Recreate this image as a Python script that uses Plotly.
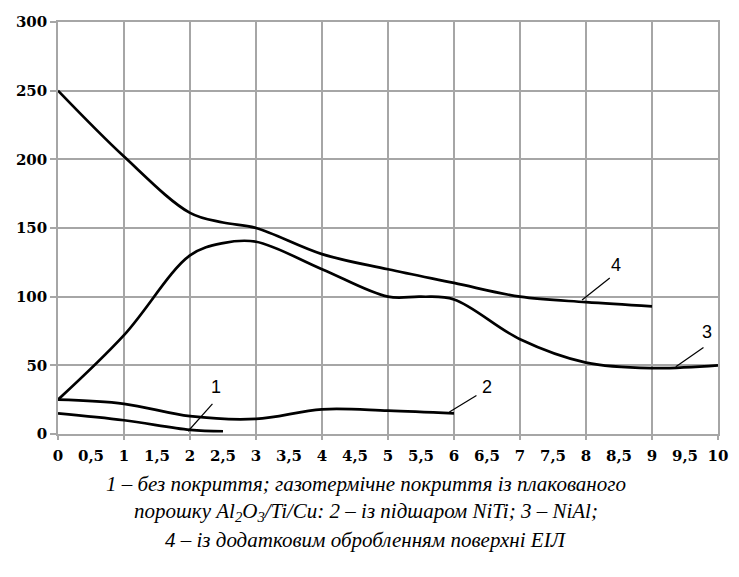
import plotly.graph_objects as go

# ---- data ----
x1 = [0, 1, 2, 2.5]
y1 = [15, 10, 3, 2]

x2 = [0, 1, 2, 3, 4, 5, 6]
y2 = [25, 22, 13, 11, 18, 17, 15]

x3 = [0, 1, 2, 2.5, 3, 4, 5, 5.5, 6, 7, 8, 9, 10]
y3 = [25, 72, 130, 139, 140, 120, 100, 100, 98, 69, 52, 48, 50]

x4 = [0, 1, 2, 2.5, 3, 4, 5, 6, 7, 8, 9]
y4 = [250, 202, 161, 154, 150, 131, 120, 110, 100, 96, 93]

curve_labels = ["1", "2", "3", "4"]
label_x = [2.39, 6.50, 9.84, 8.46]
label_y = [34, 34, 74, 123]
leader_x0 = [1.97, 5.93, 9.36, 7.94]
leader_y0 = [2, 16, 49, 97.6]
leader_x1 = [2.34, 6.34, 9.78, 8.36]
leader_y1 = [22, 28, 63, 113.6]

x_tickvals = [i * 0.5 for i in range(21)]
x_ticktext = [("%g" % v).replace(".", ",") for v in x_tickvals]
x_gridvals = list(range(11))
y_tickvals = [0, 50, 100, 150, 200, 250, 300]

caption = [
    "<i>1 – без покриття; газотермічне покриття із плакованого</i>",
    "<i>порошку Al<sub>2</sub>O<sub>3</sub>/Ti/Cu: 2 – із підшаром NiTi; 3 – NiAl;</i>",
    "<i>4 – із додатковим обробленням поверхні ЕІЛ</i>",
]

SERIF = "Liberation Serif"
TICKFONT = "DejaVu Serif"
GRID = "#a6a6a6"
fig = go.Figure()

for xs, ys in [(x1, y1), (x2, y2), (x3, y3), (x4, y4)]:
    fig.add_trace(go.Scatter(x=xs, y=ys, mode="lines",
                             line=dict(color="black", width=2.7, shape="spline", smoothing=1.0),
                             showlegend=False, hoverinfo="skip"))

for i in range(len(curve_labels)):
    fig.add_trace(go.Scatter(x=[leader_x0[i], leader_x1[i]], y=[leader_y0[i], leader_y1[i]],
                             mode="lines", line=dict(color="black", width=1.2),
                             showlegend=False, hoverinfo="skip"))
    fig.add_annotation(x=label_x[i], y=label_y[i], text=curve_labels[i], showarrow=False,
                       font=dict(family="Liberation Sans", size=18, color="black"),
                       xanchor="center", yanchor="middle")

# invisible trace for overlay axis (integer grid lines)
fig.add_trace(go.Scatter(x=[0, 10], y=[0, 0], xaxis="x2", mode="lines",
                         line=dict(width=0), showlegend=False, hoverinfo="skip"))

fig.update_layout(
    width=739, height=577,
    margin=dict(l=58, r=11, t=22, b=143),
    paper_bgcolor="white", plot_bgcolor="white",
    font=dict(family=SERIF),
    xaxis=dict(range=[0, 10], tickmode="array", tickvals=x_tickvals, ticktext=x_ticktext,
               showgrid=False, zeroline=False, ticks="outside", ticklen=7, tickcolor="rgba(0,0,0,0)",
               showline=True, linecolor=GRID, linewidth=1.5, mirror=True,
               tickfont=dict(family=TICKFONT, size=15, color="black", weight="bold")),
    xaxis2=dict(range=[0, 10], overlaying="x", anchor="y", side="bottom",
                tickmode="array", tickvals=x_gridvals, showticklabels=False,
                showgrid=True, gridcolor=GRID, gridwidth=1.5, zeroline=False,
                ticks="outside", ticklen=5, tickcolor=GRID, tickwidth=1.5),
    yaxis=dict(range=[0, 300], tickmode="array", tickvals=y_tickvals,
               showgrid=True, gridcolor=GRID, gridwidth=1.5, zeroline=False,
               showline=True, linecolor=GRID, linewidth=1.5, mirror=True,
               ticks="outside", ticklen=6, tickcolor=GRID, tickwidth=1.5,
               tickfont=dict(family=TICKFONT, size=15, color="black", weight="bold")),
)

cap_y = [-0.122, -0.190, -0.258]
for txt, yy in zip(caption, cap_y):
    fig.add_annotation(xref="paper", yref="paper", x=0.466, y=yy, text=txt, showarrow=False,
                       xanchor="center", yanchor="middle",
                       font=dict(family=SERIF, size=21, color="black"))

fig.write_html("out.html")
